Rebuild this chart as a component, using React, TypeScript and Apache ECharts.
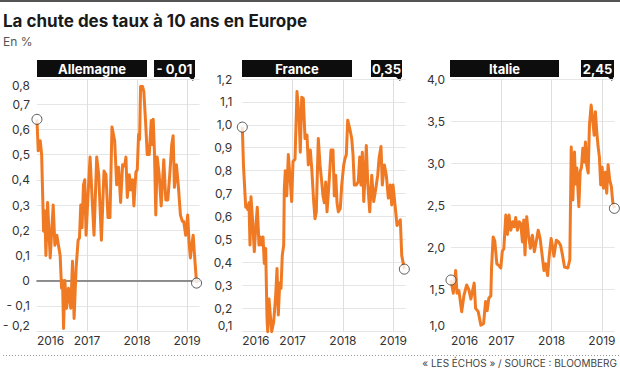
import React, { useEffect, useRef } from 'react';
import * as echarts from 'echarts';

// ---------- DATA ----------
const countries = ['Allemagne', 'France', 'Italie'];
const lastValueLabels = ['- 0,01', '0,35', '2,45'];

// Germany 10y (decimal year, %)
const deX = [2016.0, 2016.026, 2016.066, 2016.094, 2016.133, 2016.159, 2016.179, 2016.213, 2016.265, 2016.325,
  2016.359, 2016.398, 2016.464, 2016.492, 2016.512, 2016.532, 2016.558, 2016.592, 2016.631, 2016.677,
  2016.711, 2016.743, 2016.783, 2016.823, 2016.851, 2016.876, 2016.902, 2016.930, 2016.956, 2016.982,
  2017.022, 2017.062, 2017.102, 2017.141, 2017.195, 2017.235, 2017.289, 2017.341, 2017.380, 2017.420,
  2017.460, 2017.500, 2017.554, 2017.594, 2017.633, 2017.673, 2017.713, 2017.753, 2017.779, 2017.807,
  2017.847, 2017.873, 2017.912, 2017.938, 2017.978, 2018.006, 2018.032, 2018.052, 2018.072, 2018.112,
  2018.137, 2018.171, 2018.205, 2018.245, 2018.285, 2018.305, 2018.325, 2018.351, 2018.376, 2018.404,
  2018.444, 2018.484, 2018.536, 2018.576, 2018.616, 2018.655, 2018.695, 2018.723, 2018.749, 2018.789,
  2018.829, 2018.869, 2018.908, 2018.934, 2018.974, 2019.014, 2019.042, 2019.068, 2019.094, 2019.124,
  2019.151, 2019.191];
const deY = [0.64, 0.515, 0.555, 0.50, 0.196, 0.276, 0.10, 0.31, 0.09, 0.30,
  0.14, 0.18, 0.10, -0.03, 0.0, -0.19, 0.0, -0.11, -0.03, -0.11,
  0.077, -0.15, 0.05, 0.16, 0.17, 0.30, 0.21, 0.38, 0.40, 0.18,
  0.34, 0.49, 0.33, 0.18, 0.49, 0.42, 0.16, 0.435, 0.42, 0.25,
  0.25, 0.61, 0.555, 0.38, 0.45, 0.31, 0.46, 0.455, 0.49, 0.33,
  0.42, 0.36, 0.40, 0.296, 0.43, 0.44, 0.58, 0.56, 0.77, 0.77,
  0.75, 0.635, 0.50, 0.50, 0.635, 0.54, 0.64, 0.50, 0.26, 0.49,
  0.42, 0.296, 0.48, 0.32, 0.32, 0.42, 0.54, 0.575, 0.37, 0.46,
  0.37, 0.26, 0.235, 0.235, 0.18, 0.26, 0.15, 0.09, 0.14, 0.18,
  0.10, -0.01];

// France 10y
const frX = [2016.0, 2016.024, 2016.068, 2016.093, 2016.107, 2016.133, 2016.153, 2016.173, 2016.199, 2016.239,
  2016.266, 2016.298, 2016.332, 2016.358, 2016.386, 2016.412, 2016.437, 2016.465, 2016.491, 2016.505,
  2016.531, 2016.557, 2016.584, 2016.624, 2016.664, 2016.690, 2016.716, 2016.744, 2016.769, 2016.795,
  2016.823, 2016.835, 2016.855, 2016.883, 2016.915, 2016.942, 2016.982, 2017.008, 2017.048, 2017.087,
  2017.127, 2017.153, 2017.181, 2017.213, 2017.247, 2017.286, 2017.312, 2017.352, 2017.380, 2017.419,
  2017.445, 2017.471, 2017.511, 2017.545, 2017.579, 2017.604, 2017.630, 2017.658, 2017.684, 2017.724,
  2017.763, 2017.803, 2017.829, 2017.857, 2017.883, 2017.909, 2017.948, 2017.976, 2018.016, 2018.042,
  2018.068, 2018.095, 2018.135, 2018.175, 2018.201, 2018.227, 2018.266, 2018.306, 2018.334, 2018.360,
  2018.386, 2018.414, 2018.439, 2018.465, 2018.493, 2018.533, 2018.573, 2018.612, 2018.652, 2018.692,
  2018.718, 2018.757, 2018.783, 2018.823, 2018.863, 2018.903, 2018.942, 2018.970, 2018.996, 2019.036,
  2019.076, 2019.115, 2019.141, 2019.169, 2019.221];
const frY = [0.99, 0.82, 0.64, 0.65, 0.63, 0.66, 0.475, 0.686, 0.60, 0.446,
  0.55, 0.64, 0.475, 0.51, 0.475, 0.51, 0.395, 0.46, 0.155, 0.097,
  0.24, 0.17, 0.097, 0.14, 0.257, 0.373, 0.17, 0.31, 0.286, 0.43,
  0.475, 0.72, 0.80, 0.69, 0.87, 0.79, 0.665, 0.84, 0.85, 1.145,
  1.04, 0.88, 1.12, 1.115, 0.94, 0.955, 0.825, 0.89, 0.81, 0.665,
  0.59, 0.62, 0.94, 0.825, 0.75, 0.69, 0.66, 0.75, 0.62, 0.745,
  0.89, 0.89, 0.69, 0.78, 0.66, 0.62, 0.635, 0.737, 0.825, 0.853,
  0.87, 1.02, 0.985, 0.94, 0.87, 0.737, 0.737, 0.752, 0.86, 0.737,
  0.88, 0.665, 0.77, 0.91, 0.75, 0.62, 0.78, 0.665, 0.72, 0.78,
  0.853, 0.905, 0.737, 0.825, 0.78, 0.68, 0.737, 0.65, 0.737, 0.65,
  0.56, 0.575, 0.585, 0.43, 0.37];

// Italy 10y
const itX = [2016.0, 2016.046, 2016.093, 2016.119, 2016.158, 2016.212, 2016.257, 2016.311, 2016.356, 2016.396,
  2016.436, 2016.461, 2016.489, 2016.541, 2016.594, 2016.648, 2016.687, 2016.719, 2016.752, 2016.792,
  2016.806, 2016.838, 2016.871, 2016.911, 2016.950, 2016.990, 2017.020, 2017.050, 2017.089, 2017.123,
  2017.154, 2017.188, 2017.228, 2017.257, 2017.287, 2017.321, 2017.356, 2017.386, 2017.420, 2017.446,
  2017.471, 2017.505, 2017.539, 2017.578, 2017.618, 2017.657, 2017.693, 2017.733, 2017.772, 2017.812,
  2017.848, 2017.881, 2017.921, 2017.950, 2017.990, 2018.020, 2018.046, 2018.093, 2018.139, 2018.178,
  2018.218, 2018.257, 2018.323, 2018.362, 2018.390, 2018.422, 2018.455, 2018.475, 2018.501, 2018.541,
  2018.568, 2018.594, 2018.620, 2018.646, 2018.673, 2018.699, 2018.727, 2018.752, 2018.786, 2018.816,
  2018.846, 2018.871, 2018.897, 2018.925, 2018.950, 2018.976, 2019.004, 2019.030, 2019.069, 2019.095,
  2019.123, 2019.154, 2019.188, 2019.214, 2019.248];
const itY = [1.607, 1.45, 1.72, 1.45, 1.48, 1.23, 1.42, 1.548, 1.49, 1.38,
  1.50, 1.57, 1.27, 1.23, 1.07, 1.09, 1.35, 1.24, 1.39, 1.42,
  1.75, 2.12, 2.07, 1.80, 1.78, 1.75, 1.95, 1.98, 2.38, 2.15,
  2.38, 2.20, 2.30, 2.24, 2.35, 2.20, 2.30, 2.28, 2.06, 2.32,
  1.905, 2.36, 2.15, 1.985, 2.14, 1.944, 2.06, 2.20, 2.10, 1.90,
  1.72, 1.80, 1.66, 1.88, 2.10, 2.00, 1.89, 2.08, 2.06, 2.02,
  1.90, 1.76, 1.75, 1.85, 3.19, 2.56, 3.13, 2.75, 2.94, 2.48,
  2.90, 2.95, 3.175, 3.01, 3.25, 2.97, 2.88, 3.45, 3.69, 3.52,
  3.33, 3.61, 3.37, 3.19, 3.07, 2.74, 2.95, 2.70, 2.89, 2.64,
  2.98, 2.80, 2.72, 2.54, 2.46];

// ---------- LAYOUT / STYLE ----------
const ORANGE = '#f07a24';
const FONT = 'Inter, "Noto Sans", sans-serif';
const GRID_TOP = 79;
const GRID_H = 252;
const GRID_W = 163.5;
const X_MIN = 2016;
const X_MAX = 2019.25;

const panels = [
  { left: 36, yMin: -0.2, yMax: 0.8, interval: 0.1, margin: 7, maxAlign: 'top', xs: deX, ys: deY, zeroLine: true,
    bar: [37, 147], box: [154, 195] },
  { left: 242.3, yMin: 0.1, yMax: 1.2, interval: 0.1, margin: 10, maxAlign: 'middle', xs: frX, ys: frY, zeroLine: false,
    bar: [242, 352], box: [371, 402] },
  { left: 451, yMin: 1, yMax: 4, interval: 0.5, margin: 6, maxAlign: 'middle', xs: itX, ys: itY, zeroLine: false,
    bar: [450, 559], box: [581, 614] },
];

const fmtY = (v: number) => {
  if (Math.abs(v) < 1e-9) return '0';
  const s = Math.abs(v).toFixed(1).replace('.', ',');
  return v < 0 ? '- ' + s : s;
};
const fmtX = (v: number) => (Math.abs(v - Math.round(v)) < 1e-6 ? String(Math.round(v)) : '');

export default function App() {
  const ref = useRef<HTMLDivElement>(null);

  useEffect(() => {
    if (!ref.current) return;
    const chart = echarts.init(ref.current, undefined, { renderer: 'svg' });

    const grid: any[] = [];
    const xAxis: any[] = [];
    const yAxis: any[] = [];
    const series: any[] = [];
    const graphic: any[] = [];

    panels.forEach((p, i) => {
      grid.push({ left: p.left, top: GRID_TOP, width: GRID_W, height: GRID_H, containLabel: false });
      xAxis.push({
        type: 'value', gridIndex: i, min: X_MIN, max: X_MAX, interval: 1,
        axisLine: { show: p.zeroLine, onZero: true, lineStyle: { color: '#6e6e6e', width: 1.5 } },
        axisTick: { show: false },
        axisLabel: {
          formatter: fmtX, color: '#333', fontFamily: FONT, fontSize: 12, margin: 3,
          alignMinLabel: 'left',
        },
        splitLine: { show: true, showMinLine: false, showMaxLine: false, lineStyle: { color: '#dedede', width: 1 } },
      });
      yAxis.push({
        type: 'value', gridIndex: i, min: p.yMin, max: p.yMax, interval: p.interval,
        axisLine: { show: false }, axisTick: { show: false },
        axisLabel: {
          formatter: fmtY, color: '#333', fontFamily: FONT, fontSize: 12, margin: p.margin,
          verticalAlignMinLabel: 'bottom', verticalAlignMaxLabel: p.maxAlign,
        },
        splitLine: { show: true, lineStyle: { color: '#e6e6e6', width: 1 } },
      });
      const data = p.xs.map((x, k) => [x, p.ys[k]]);
      series.push({
        type: 'line', name: countries[i], xAxisIndex: i, yAxisIndex: i, data,
        showSymbol: false, symbol: 'none', clip: false, z: 3,
        lineStyle: { color: ORANGE, width: 3, join: 'round' },
      });
      series.push({
        type: 'scatter', xAxisIndex: i, yAxisIndex: i, clip: false, z: 5,
        data: [data[0], data[data.length - 1]],
        symbol: 'circle', symbolSize: 10,
        itemStyle: { color: '#ffffff', borderColor: '#333', borderWidth: 1 },
      });

      // header bar
      graphic.push({
        type: 'rect', shape: { x: p.bar[0], y: 60, width: p.bar[1] - p.bar[0], height: 17 },
        style: { fill: '#0d0d0d' },
      });
      graphic.push({
        type: 'text', x: (p.bar[0] + p.bar[1]) / 2, y: 68.5,
        style: { text: countries[i], fill: '#fff', font: `bold 13px ${FONT}`,
          textAlign: 'center', textVerticalAlign: 'middle', align: 'center', verticalAlign: 'middle' },
      });
      // value box
      graphic.push({
        type: 'rect', shape: { x: p.box[0], y: 60, width: p.box[1] - p.box[0], height: 17 },
        style: { fill: '#0d0d0d' },
      });
      graphic.push({
        type: 'polygon',
        shape: { points: [[p.box[1] - 7, 76], [p.box[1], 76], [p.box[1] - 2, 81]] },
        style: { fill: '#0d0d0d' },
      });
      graphic.push({
        type: 'text', x: (p.box[0] + p.box[1]) / 2, y: 68.5,
        style: { text: lastValueLabels[i], fill: '#fff', font: `bold 13px ${FONT}`,
          textAlign: 'center', textVerticalAlign: 'middle', align: 'center', verticalAlign: 'middle' },
      });
    });

    graphic.push(
      { type: 'rect', shape: { x: 0, y: 0, width: 620, height: 2 }, style: { fill: '#555' } },
      {
        type: 'text', x: 3, y: 21,
        style: { text: 'La chute des taux à 10 ans en Europe', fill: '#1a1a1a', font: `bold 17px ${FONT}`,
          textAlign: 'left', textVerticalAlign: 'middle', align: 'left', verticalAlign: 'middle' },
      },
      {
        type: 'text', x: 3, y: 41,
        style: { text: 'En %', fill: '#555', font: `12px ${FONT}`,
          textAlign: 'left', textVerticalAlign: 'middle', align: 'left', verticalAlign: 'middle' },
      },
      {
        type: 'line', shape: { x1: 3, y1: 355.5, x2: 620, y2: 355.5 },
        style: { stroke: '#9a9a9a', lineWidth: 1, lineDash: [1, 2] },
      },
      {
        type: 'text', x: 617, y: 363,
        style: { text: '« LES ÉCHOS » / SOURCE : BLOOMBERG', fill: '#444', font: `10px ${FONT}`,
          textAlign: 'right', textVerticalAlign: 'middle', align: 'right', verticalAlign: 'middle' },
      },
    );

    chart.setOption({
      animation: false,
      backgroundColor: '#ffffff',
      grid, xAxis, yAxis, series, graphic,
    });

    return () => chart.dispose();
  }, []);

  return (
    <div
      ref={ref}
      style={{ position: 'fixed', left: 0, top: 0, width: 620, height: 369, background: '#fff' }}
    />
  );
}
